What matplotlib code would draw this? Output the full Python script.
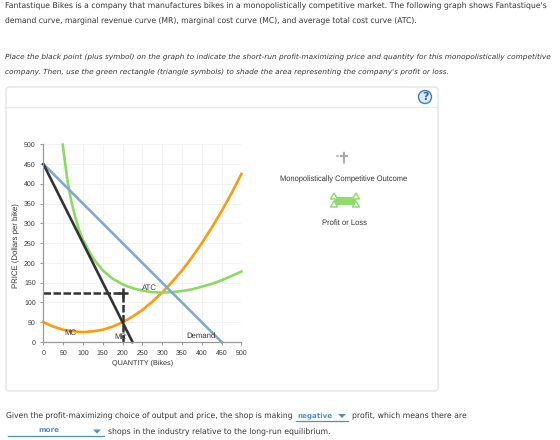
import matplotlib
matplotlib.use("Agg")
import matplotlib.pyplot as plt
from matplotlib.patches import Circle, FancyBboxPatch, Polygon, Rectangle

# keep text widths linear at these small sizes
plt.rcParams["text.hinting"] = "none"
plt.rcParams["text.hinting_factor"] = 8

# curves, read in dollars per bike
demand_q = [0, 450]
demand_p = [450, 0]
mr_q = [0, 225]
mr_p = [450, 0]
mc_q = [0, 25, 50, 75, 100, 125, 150, 175, 200, 225, 250, 275, 300, 325, 350, 375, 400, 425, 450, 475, 500]
mc_p = [50, 39, 31, 27, 25, 27, 31, 39, 50, 64, 81, 102, 125, 152, 181, 214, 250, 289, 331, 376, 425]
atc_q = [49, 50, 60, 70, 80, 90, 100, 125, 150, 175, 200, 225, 250, 275, 300, 325, 350, 375, 400, 425, 450, 475, 500]
atc_p = [499, 490, 413, 358, 317, 284, 258, 212, 181, 160, 146, 136, 130, 126, 125, 126, 129, 133, 140, 147, 156, 167, 178]
outcome_q = 200
outcome_p = 125
ticks = list(range(0, 501, 50))

W, H = 560, 440
TEXT = "#333333"
CHART_FONT = "Liberation Sans"
PAGE_FONT = "DejaVu Sans"

fig = plt.figure(figsize=(W / 100, H / 100), dpi=100)
renderer = fig.canvas.get_renderer()


def box(left, top, right, bottom):
    return [left / W, 1 - bottom / H, (right - left) / W, (bottom - top) / H]


def fit_width(text, px):
    # scale the font so the run of text is px long
    ext = text.get_window_extent(renderer)
    text.set_fontsize(text.get_fontsize() * px / max(ext.width, ext.height))


# page layer in pixel coordinates
page = fig.add_axes([0, 0, 1, 1])
page.set_xlim(0, W)
page.set_ylim(H, 0)
page.axis("off")


def page_text(x, y, s, width=None, size=5.5, ha="left", **kw):
    kw.setdefault("color", TEXT)
    kw.setdefault("family", PAGE_FONT)
    t = page.text(x, y, s, fontsize=size, ha=ha, va="center", **kw)
    if width:
        fit_width(t, width)


page_text(5, 5, "Fantastique Bikes is a company that manufactures bikes in a monopolistically competitive market. The following graph shows Fantastique's", width=541)
page_text(5, 20, "demand curve, marginal revenue curve (MR), marginal cost curve (MC), and average total cost curve (ATC).", width=415)
page_text(5, 57, "Place the black point (plus symbol) on the graph to indicate the short-run profit-maximizing price and quantity for this monopolistically competitive", width=545, style="italic")
page_text(5, 72, "company. Then, use the green rectangle (triangle symbols) to shade the area representing the company's profit or loss.", width=446, style="italic")

page.add_patch(FancyBboxPatch((6, 87), 432, 304, boxstyle="round,pad=0,rounding_size=3",
                              fc="white", ec="#e2e2e2", lw=0.9))
page.plot([6, 438], [107, 107], color="#e6e6e6", lw=0.8)
page.add_patch(Circle((425, 97), 6.5, fc="#dcebf7", ec="#3f7fb5", lw=1))
page_text(425, 97, "?", size=8, ha="center", color="#2f6fa8", weight="bold")

# legend tools on the right of the graph
page.plot([344, 344], [153, 161], color="#aaaaaa", lw=1.6)
page.plot([341, 347], [156, 156], color="#aaaaaa", lw=1.6)
page.plot([337, 338], [156, 156], color="#aaaaaa", lw=1.1)
page.plot([344, 344], [162, 163], color="#aaaaaa", lw=1.1)
page_text(344, 179, "Monopolistically Competitive Outcome", width=128, ha="center", family=CHART_FONT)
page.add_patch(Rectangle((334, 197), 22, 8, fc="#8fdc6e", ec="none"))
for cx, cy in [(334, 196), (356, 196), (334, 204), (356, 204)]:
    page.add_patch(Polygon([(cx - 3.5, cy + 3), (cx + 3.5, cy + 3), (cx, cy - 3)], closed=True,
                           fc="white", ec="#8fdc6e", lw=1.1))
page_text(344, 222.5, "Profit or Loss", width=45, ha="center", family=CHART_FONT)

# answer sentence with the two dropdowns
page_text(6, 415.5, "Given the profit-maximizing choice of output and price, the shop is making", width=287)
page_text(297, 415.5, "negative", width=35, color="#4f8fc6", weight="bold")
page.plot([296, 348], [420.7, 420.7], color="#4f8fc6", lw=0.9)
page.add_patch(Polygon([(338, 414), (346, 414), (342, 418)], closed=True, fc="#4f8fc6", ec="none"))
page_text(352.5, 415.5, "profit, which means there are", width=114.5)
page_text(48.6, 431, "more", width=21, ha="center", color="#4f8fc6", weight="bold")
page.plot([8, 103.6], [436.4, 436.4], color="#4f8fc6", lw=0.9)
page.add_patch(Polygon([(93, 429.5), (101, 429.5), (97, 433.5)], closed=True, fc="#4f8fc6", ec="none"))
page_text(108, 431, "shops in the industry relative to the long-run equilibrium.", width=222)

# the market graph
ax = fig.add_axes(box(43.4, 144.3, 241.4, 342))
ax.patch.set_alpha(0)
ax.set_xlim(0, 500)
ax.set_ylim(0, 500)
ax.set_xticks(ticks)
ax.set_yticks(ticks)
ax.grid(True, color="#f3f3f3", lw=0.7)
ax.set_axisbelow(True)
for side in ["top", "right"]:
    ax.spines[side].set_visible(False)
for side in ["left", "bottom"]:
    ax.spines[side].set_color("#999999")
    ax.spines[side].set_linewidth(0.9)
ax.tick_params(length=2.5, width=0.7, color="#999999", labelsize=5, labelcolor=TEXT, pad=3)
for label in ax.get_xticklabels() + ax.get_yticklabels():
    label.set_family(CHART_FONT)

ax.plot(mc_q, mc_p, color="#ff9a0a", lw=1.9, solid_joinstyle="round", clip_on=False)
ax.plot(atc_q, atc_p, color="#8cd964", lw=1.9, solid_joinstyle="round", clip_on=False)
ax.plot(demand_q, demand_p, color="#7ea9d2", lw=1.9, clip_on=False)
ax.plot(mr_q, mr_p, color="#333333", lw=1.9, clip_on=False)

# profit-maximizing outcome with its dashed guides
ax.plot([0, outcome_q], [outcome_p, outcome_p], color="#333333", lw=1.8, ls=(0, (3, 1)))
ax.plot([outcome_q, outcome_q], [0, outcome_p], color="#333333", lw=1.8, ls=(0, (3, 1)))
ax.plot([outcome_q], [outcome_p], marker="+", ms=6.5, mew=1.8, color="#333333", clip_on=False)

for label, q, p in [("ATC", 268, 138), ("MC", 67, 23.5), ("MR", 194, 13), ("Demand", 397, 15)]:
    ax.text(q, p, label, fontsize=5.6, ha="center", va="center", color=TEXT, family=CHART_FONT)

ax.set_xlabel("QUANTITY (Bikes)", fontsize=5.5, color=TEXT, family=CHART_FONT)
ax.xaxis.set_label_coords(0.5, -0.09)
fit_width(ax.xaxis.label, 61)
ax.set_ylabel("PRICE (Dollars per bike)", fontsize=5.5, color=TEXT, family=CHART_FONT)
ax.yaxis.set_label_coords(-0.12, 0.49)
fit_width(ax.yaxis.label, 85)

fig.savefig("out.png", dpi=100)
